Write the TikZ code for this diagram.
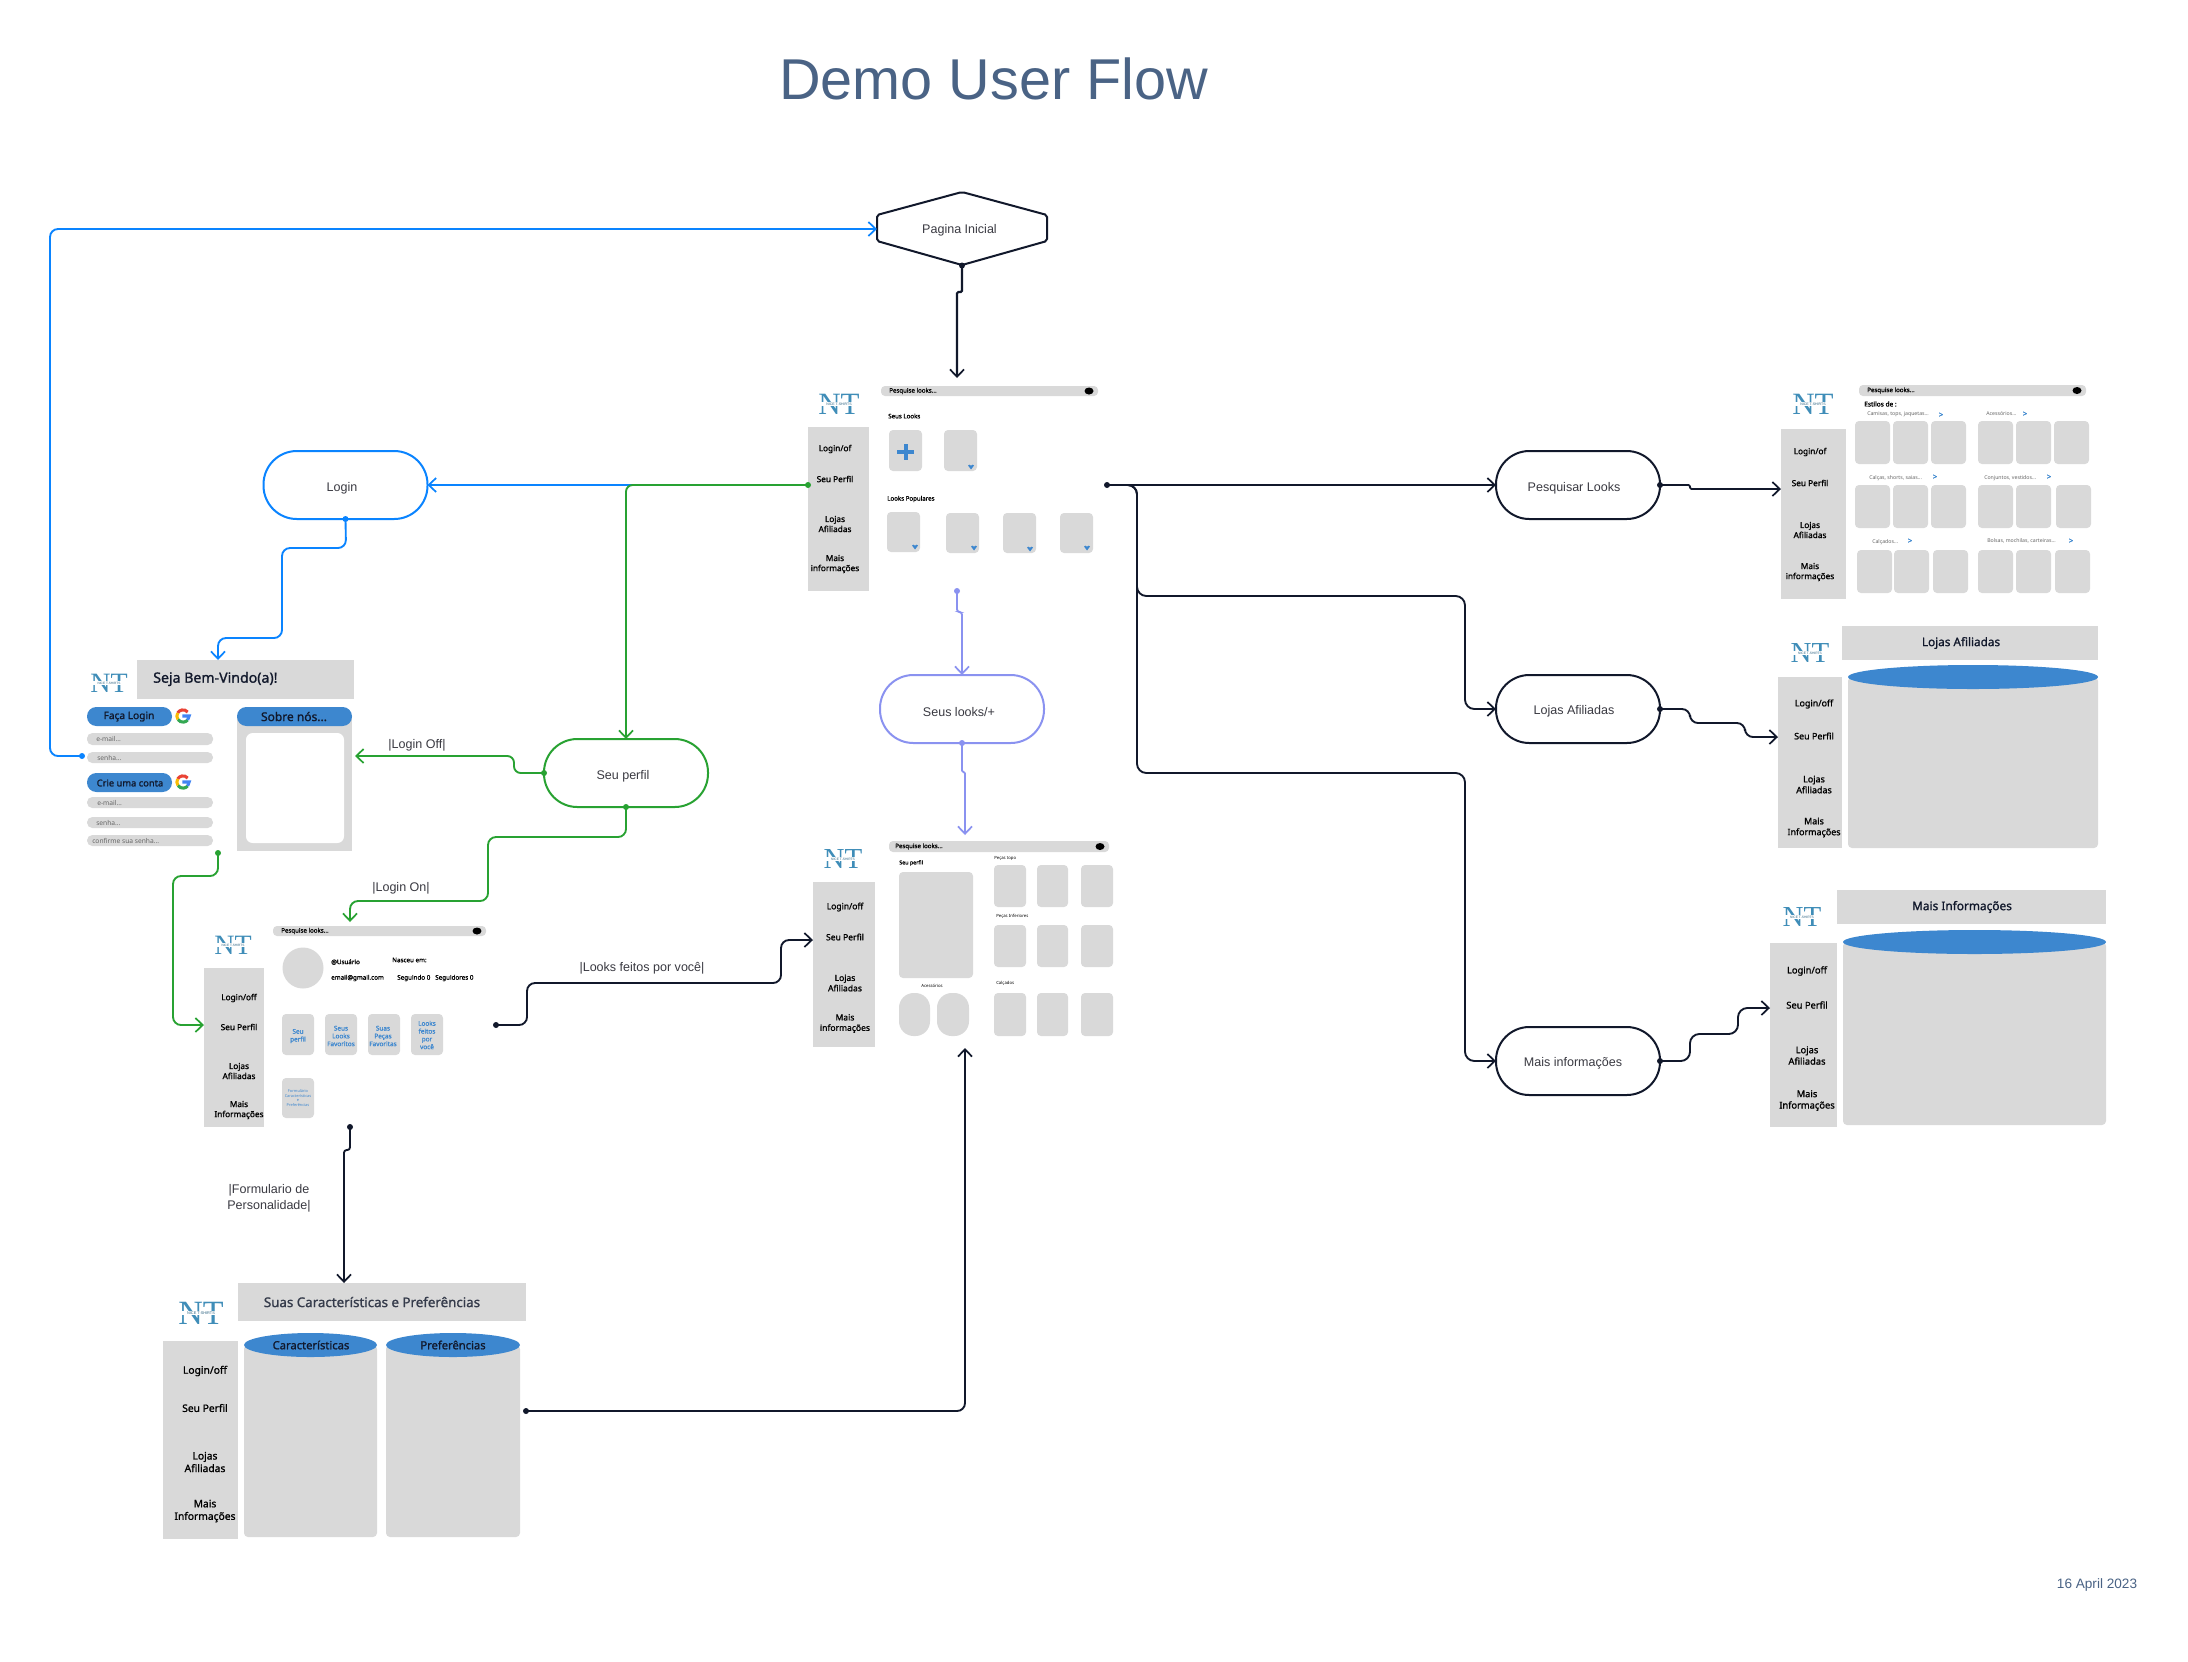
\documentclass[tikz,border=0pt]{standalone}
\usepackage{fontspec}
\setmainfont{Liberation Sans}
\newfontfamily\uim[FakeBold=1.2]{Noto Sans}
\newfontfamily\uir{Noto Sans}
\usetikzlibrary{arrows.meta}
\definecolor{cgray}{HTML}{D9D9D9}
\definecolor{cblue}{HTML}{3D87CF}
\definecolor{cink}{HTML}{11182B}
\definecolor{cgreen}{HTML}{28A232}
\definecolor{clink}{HTML}{0A84FF}
\definecolor{cpurple}{HTML}{8A92F0}
\definecolor{ctitle}{HTML}{4A6385}
\definecolor{clabel}{HTML}{3A3A42}
\definecolor{cfield}{HTML}{666666}
\definecolor{clogo}{HTML}{3F8DB8}
\newcounter{tx}
\newcommand{\UM}[6][center]{\stepcounter{tx}\pgfmathsetmacro\lsk{#4*1.22}%
  \node[name=u\arabic{tx},anchor=#1,inner sep=0pt,align=center,text=#5,font=\uim\fontsize{#4}{\lsk}\selectfont] at (#2,#3) {#6};}
\newcommand{\UR}[6][center]{\stepcounter{tx}\pgfmathsetmacro\lsk{#4*1.22}%
  \node[name=u\arabic{tx},anchor=#1,inner sep=0pt,align=center,text=#5,font=\uir\fontsize{#4}{\lsk}\selectfont] at (#2,#3) {#6};}
\newcommand{\GBox}[4]{\fill[cgray] (#1,#2) rectangle (#3,#4);}
\newcommand{\Card}[4]{\fill[cgray,rounded corners=3pt] (#1,#2) rectangle (#3,#4);}
\newcommand{\Logo}[3]{% cx cy scale(px em)
  \stepcounter{tx}\pgfmathsetmacro\lsk{#3*0.75}%
  \pgfmathsetmacro\bw{#3*1.2}\pgfmathsetmacro\bh{#3*0.11}\pgfmathsetmacro\ts{#3*0.085}%
  \node[name=u\arabic{tx},inner sep=0pt,text=clogo,font=\fontspec{Liberation Serif}\fontsize{\lsk}{\lsk}\selectfont] at (#1,#2+1) {NT};
  \fill[white] (#1-\bw/2,#2-\bh/2+1) rectangle (#1+\bw/2,#2+\bh/2+1);
  \stepcounter{tx}%
  \node[name=u\arabic{tx},inner sep=0pt,text=clogo!70!black,font=\fontsize{\ts}{\ts}\selectfont] at (#1,#2+1) {NICE T-SHIRTS};}
\newcommand{\Search}[5]{% x0 y0 x1 y1 textx
  \Card{#1}{#2}{#3}{#4}
  \UM[west]{#5}{{(#2+#4)/2}}{4.6}{black}{Pesquise looks...}
  \fill[black] (#3-9,{(#2+#4)/2}) ellipse[x radius=4.5,y radius=3.5];}
\newcommand{\Heart}[2]{\fill[cblue] (#1-3,#2-1.5) -- (#1-1.5,#2-2.3) -- (#1,#2-1.3) -- (#1+1.5,#2-2.3) -- (#1+3,#2-1.5) -- (#1,#2+2.5) -- cycle;}
\newcommand{\Side}[8]{% cx ylogin yperfil ylojas ymais size logintext maistext
  \UM{#1}{#2}{#6}{black}{#7}
  \UM{#1}{#3}{#6}{black}{Seu Perfil}
  \UM{#1}{#4}{#6}{black}{Lojas\\Afiliadas}
  \UM{#1}{#5}{#6}{black}{Mais\\#8}}
\newcommand{\Gee}[2]{%
  \draw[line width=2.3pt,color={rgb,255:red,234;green,67;blue,53}] (#1,#2) ++(40:4.6pt) arc[start angle=40,end angle=150,radius=4.6pt];
  \draw[line width=2.3pt,color={rgb,255:red,251;green,188;blue,5}] (#1,#2) ++(150:4.6pt) arc[start angle=150,end angle=215,radius=4.6pt];
  \draw[line width=2.3pt,color={rgb,255:red,52;green,168;blue,83}] (#1,#2) ++(215:4.6pt) arc[start angle=215,end angle=320,radius=4.6pt];
  \draw[line width=2.3pt,color={rgb,255:red,66;green,133;blue,244}] (#1,#2) ++(320:4.6pt) arc[start angle=320,end angle=360,radius=4.6pt] -- +(-5pt,0pt);}
\newcommand{\Cyl}[4]{% x0 x1 ycenter ybottom
  \fill[cgray,rounded corners=3pt] (#1,#3) rectangle (#2,#4);
  \fill[cblue] ({(#1+#2)/2},#3) ellipse[x radius={(#2-#1)/2},y radius=12];}
\tikzset{
  pill/.style={draw,line width=1.5pt,fill=white,minimum width=123pt,minimum height=51pt,rounded corners=25pt,inner sep=0pt,outer sep=0pt},
  pilltext/.style={inner sep=0pt,text=clabel,font=\fontsize{9.4}{11}\selectfont},
  flow/.style={line width=1.4pt,rounded corners=5pt,-{Straight Barb[length=5.5pt,width=10.5pt,line width=1.3pt]}},
  edgelabel/.style={inner sep=0pt,text=clabel,align=center,font=\fontsize{9.4}{12}\selectfont},
  dot/.style={radius=3}
}
\begin{document}
\begin{tikzpicture}[x=0.75pt,y=-0.75pt]
\useasboundingbox (0,0) rectangle (2188,1661);
\fill[white] (0,0) rectangle (2188,1661);

\node[name=title,inner sep=0pt,text=ctitle,font=\fontsize{43.2}{50}\selectfont] at (993.5,79) {Demo User Flow};
\node[name=datestamp,inner sep=0pt,text=ctitle,font=\fontsize{10.2}{12}\selectfont] at (2097,1585) {16 April 2023};

%% ---------- main screen
\Logo{839}{403}{31}
\GBox{808}{427}{869}{591}
\Side{835}{449}{479}{524}{564}{6.2}{Login/of}{informações}
\Search{881}{386}{1098}{396}{889}
\UM[west]{888}{416}{4.6}{black}{Seus Looks}
\Card{889}{430}{922}{471}
\draw[cblue,line width=3pt] (897,452) -- (914,452) (905.5,444) -- (905.5,460);
\Card{944}{430}{977}{471}\Heart{971}{467}
\UM[west]{887}{499}{4.6}{black}{Looks Populares}
\Card{887}{512}{920}{552}\Heart{915}{547}
\Card{946}{513}{979}{553}\Heart{974}{548}
\Card{1003}{513}{1036}{553}\Heart{1030}{549}
\Card{1060}{513}{1093}{553}\Heart{1087}{548}

%% ---------- login screen
\Logo{109}{682}{28}
\GBox{137}{660}{354}{699}
\UM[west]{153}{679}{10.6}{cink}{Seja Bem-Vindo(a)!}
\fill[cblue,rounded corners=7pt] (87,707) rectangle (172,726);
\UM{129}{716.5}{7.6}{cink}{Faça Login}
\Gee{183}{716}
\fill[cgray,rounded corners=4pt] (87,733) rectangle (213,745);
\UR[west]{96}{739}{5}{cfield}{e-mail...}
\fill[cgray,rounded corners=4pt] (87,752) rectangle (213,763);
\UR[west]{97}{757.5}{5}{cfield}{senha...}
\fill[cblue,rounded corners=7pt] (87,773) rectangle (172,792);
\UM{130}{783}{7}{cink}{Crie uma conta}
\Gee{183}{782}
\fill[cgray,rounded corners=4pt] (87,797) rectangle (213,808);
\UR[west]{97}{803}{5}{cfield}{e-mail...}
\fill[cgray,rounded corners=4pt] (87,817) rectangle (213,828);
\UR[west]{96}{823}{5}{cfield}{senha...}
\fill[cgray,rounded corners=4pt] (87,835) rectangle (213,846);
\UR[west]{92}{841}{5}{cfield}{confirme sua senha...}
\GBox{237}{716}{352}{851}
\fill[cblue,rounded corners=7pt] (237,707) rectangle (352,726);
\UM{294}{716.5}{9}{cink}{Sobre nós...}
\fill[white,rounded corners=5pt] (246,733) rectangle (344,843);

%% ---------- profile screen
\Logo{233}{944}{28}
\GBox{204}{968}{264}{1127}
\Side{239}{998}{1027}{1071}{1110}{6.2}{Login/off}{Informações}
\Search{273}{926}{486}{936}{281}
\fill[cgray] (303,968) circle[radius=20.5];
\UM[west]{331}{962}{4.7}{black}{@Usuário}
\UM[west]{392}{960}{4.7}{black}{Nasceu em:}
\UM[west]{331}{978}{4.7}{black}{email@gmail.com}
\UM[west]{397}{978}{4.7}{black}{Seguindo 0}
\UM[west]{435}{978}{4.7}{black}{Seguidores 0}
\Card{282}{1014}{314}{1055}\UM{298}{1036}{4.8}{cblue}{Seu\\perfil}
\Card{325}{1014}{357}{1055}\UM{341}{1036}{4.8}{cblue}{Seus\\Looks\\Favoritos}
\Card{368}{1014}{400}{1055}\UM{383}{1036}{4.8}{cblue}{Suas\\Peças\\Favoritas}
\Card{411}{1014}{443}{1055}\UM{427}{1035}{4.8}{cblue}{Looks\\feitos\\por\\você}
\Card{282}{1078}{314}{1118}\UR{298}{1098}{2.9}{cblue}{Formulário\\Características\\e\\Preferências}

%% ---------- form screen
\Logo{201}{1312}{34}
\GBox{163}{1341}{238}{1539}
\Side{205}{1371}{1408}{1462}{1511}{7.7}{Login/off}{Informações}
\GBox{238}{1283}{526}{1321}
\UM{372}{1302}{10}{cink!85!white}{Suas Características e Preferências}
\Cyl{244}{377}{1345}{1537}
\Cyl{386}{520}{1345}{1537}
\UM{311}{1345}{8.4}{cink}{Características}
\UM{453}{1345}{8.4}{cink}{Preferências}

%% ---------- looks result screen
\Logo{843}{858}{29}
\GBox{813}{882}{875}{1047}
\Side{845}{907}{937}{983}{1023.5}{6.4}{Login/off}{informações}
\Search{889}{841}{1109}{852}{895}
\UM[west]{899}{863}{4}{black}{Seu perfil}
\Card{899}{872}{973}{978}
\UR{932}{986}{3.2}{black}{Acessórios}
\fill[cgray,rounded corners=11pt] (899,993) rectangle (930,1036);
\fill[cgray,rounded corners=11pt] (937,993) rectangle (969,1036);
\UR[west]{994}{858}{3.2}{black}{Peças topo}
\UR[west]{996}{916}{3.2}{black}{Peças Inferiores}
\UR[west]{996}{983}{3.2}{black}{Calçados}
\Card{994}{865}{1026}{907}\Card{1037}{865}{1068}{907}\Card{1081}{865}{1113}{907}
\Card{994}{925}{1026}{967}\Card{1037}{925}{1068}{967}\Card{1081}{925}{1113}{967}
\Card{994}{993}{1026}{1036}\Card{1037}{993}{1068}{1036}\Card{1081}{993}{1113}{1036}

%% ---------- search results screen
\Logo{1813}{403}{31}
\GBox{1781}{429}{1846}{599}
\Side{1810}{452}{483}{530}{572}{6.2}{Login/of}{informações}
\Search{1859}{385}{2086}{396}{1867}
\UM[west]{1864}{404}{4.9}{black}{Estilos de :}
\UR[west]{1867}{414}{3.9}{cfield}{Camisas, tops, jaquetas...}
\UM{1941}{415}{6}{cblue}{>}
\UR[west]{1986}{414}{3.9}{cfield}{Acessórios...}
\UM{2025}{414}{6}{cblue}{>}
\UR[west]{1869}{478}{3.9}{cfield}{Calças, shorts, saias...}
\UM{1935}{477}{6}{cblue}{>}
\UR[west]{1984}{478}{3.9}{cfield}{Conjuntos, vestidos...}
\UM{2049}{477}{6}{cblue}{>}
\UR[west]{1872}{542}{3.9}{cfield}{Calçados...}
\UM{1910}{541}{6}{cblue}{>}
\UR[west]{1987}{541}{3.9}{cfield}{Bolsas, mochilas, carteiras...}
\UM{2071}{541}{6}{cblue}{>}
\Card{1855}{421}{1890}{464}\Card{1893}{421}{1928}{464}\Card{1931}{421}{1966}{464}
\Card{1978}{421}{2013}{464}\Card{2016}{421}{2051}{464}\Card{2054}{421}{2089}{464}
\Card{1855}{485}{1890}{528}\Card{1893}{485}{1928}{528}\Card{1931}{485}{1966}{528}
\Card{1978}{485}{2013}{528}\Card{2016}{485}{2051}{528}\Card{2056}{485}{2091}{528}
\Card{1857}{550}{1892}{593}\Card{1894}{550}{1929}{593}\Card{1933}{550}{1968}{593}
\Card{1978}{550}{2013}{593}\Card{2016}{550}{2051}{593}\Card{2055}{550}{2090}{593}

%% ---------- lojas screen
\Logo{1810}{652}{29}
\GBox{1778}{677}{1842}{848}
\Side{1814}{704}{736}{784.5}{827.5}{6.7}{Login/off}{Informações}
\GBox{1842}{626}{2098}{660}
\UM{1961}{643}{8.8}{cink}{Lojas Afiliadas}
\Cyl{1848}{2098}{677}{848}

%% ---------- mais screen
\Logo{1802}{916}{29}
\GBox{1770}{943}{1837}{1127}
\Side{1807}{971}{1005}{1055.5}{1100.5}{7}{Login/off}{Informações}
\GBox{1837}{890}{2106}{924}
\UM{1962}{907}{8.9}{cink}{Mais Informações}
\Cyl{1843}{2106}{942}{1125}

%% ---------- flow nodes
\node[name=hex,inner sep=0pt,outer sep=0pt,minimum width=127.5pt,minimum height=54.75pt] at (962,229) {};
\draw[cink,line width=1.5pt,rounded corners=1.5pt,fill=white] (877,215) -- (962,192) -- (1047,215) -- (1047,241) -- (962,265) -- (877,241) -- cycle;
\node[name=hexlabel,pilltext] at (959.5,230) {Pagina Inicial};
\node[pill,draw=clink,name=login] at (345.5,485) {};
\node[pilltext,name=logintxt] at (342,488) {Login};
\node[pill,draw=cgreen,name=perfil] at (626,773) {};
\node[pilltext,name=perfiltxt] at (623,776) {Seu perfil};
\node[pill,draw=cpurple,name=seuslooks] at (962,709) {};
\node[pilltext,name=seuslookstxt] at (959,712) {Seus looks/+};
\node[pill,draw=cink,name=pesq] at (1578,485) {};
\node[pilltext,name=pesqtxt] at (1574,488) {Pesquisar Looks};
\node[pill,draw=cink,name=lojas] at (1578,709) {};
\node[pilltext,name=lojastxt] at (1574,711) {Lojas Afiliadas};
\node[pill,draw=cink,name=mais] at (1578,1061) {};
\node[pilltext,name=maistxt] at (1573,1063) {Mais informações};

%% ---------- connection points on the screens
\coordinate (mainT) at (957,378);
\coordinate (mainL) at (808,485);
\coordinate (mainR) at (1107,485);
\coordinate (mainB) at (957,591);
\coordinate (welT) at (218,660);
\coordinate (welL) at (82,756);
\coordinate (welR) at (355,756);
\coordinate (welB) at (218,853);
\coordinate (profT) at (350,922);
\coordinate (profL) at (204,1025);
\coordinate (profR) at (496,1025);
\coordinate (profB) at (350,1127);
\coordinate (formT) at (344,1283);
\coordinate (formR) at (526,1411);
\coordinate (lookT) at (965,835);
\coordinate (lookL) at (813,940);
\coordinate (lookB) at (965,1048);
\coordinate (searchL) at (1781,489);
\coordinate (storeL) at (1778,737);
\coordinate (infoL) at (1770,1008);

%% ---------- connectors
\draw[flow,cink,line width=1.7pt,rounded corners=1pt] (hex.south) -- (962,292) -- (957,292) -- (mainT);
\fill[cink] (hex.south) circle[dot];

\draw[flow,clink] (mainL) -- (login.east);
\draw[flow,cgreen] (mainL) -- (626,485) -- (perfil.north);
\fill[cgreen] (mainL) circle[dot];

\draw[flow,clink,rounded corners=6pt] (login.south) -- (346,548) -- (282,548) -- (282,638) -- (218,638) -- (welT);
\fill[clink] (login.south) circle[dot];

\draw[flow,clink,rounded corners=6pt] (welL) -- (50,756) -- (50,229) -- (hex.west);
\fill[clink] (welL) circle[dot];

\draw[flow,cgreen] (perfil.west) -- (514,773) -- (514,756) -- (welR);
\fill[cgreen] (perfil.west) circle[dot];
\node[edgelabel,name=lbloff] at (417,745) {|Login Off|};

\draw[flow,cgreen,rounded corners=6pt] (perfil.south) -- (626,837) -- (488,837) -- (488,901) -- (350,901) -- (profT);
\fill[cgreen] (perfil.south) circle[dot];
\node[edgelabel,name=lblon] at (401,888) {|Login On|};

\draw[flow,cgreen,rounded corners=6pt] (welB) -- (218,876) -- (173,876) -- (173,1025) -- (profL);
\fill[cgreen] (welB) circle[dot];

\draw[flow,cink,rounded corners=6pt] (profR) -- (527,1025) -- (527,983) -- (781,983) -- (781,940) -- (lookL);
\fill[cink] (profR) circle[dot];
\node[edgelabel,name=lblfeitos] at (642,968) {|Looks feitos por você|};

\draw[flow,cink,rounded corners=2pt] (profB) -- (350,1150) -- (344,1150) -- (formT);
\fill[cink] (profB) circle[dot];
\node[edgelabel,name=lblform] at (269,1198) {|Formulario de\\Personalidade|};

\draw[flow,cink,rounded corners=6pt] (formR) -- (965,1411) -- (lookB);
\fill[cink] (formR) circle[dot];

\draw[flow,cpurple,rounded corners=2pt] (mainB) -- (957,612) -- (962,612) -- (seuslooks.north);
\fill[cpurple] (mainB) circle[dot];
\draw[flow,cpurple,rounded corners=1pt] (seuslooks.south) -- (962,772) -- (965,772) -- (lookT);
\fill[cpurple] (seuslooks.south) circle[dot];

\draw[flow,cink] (mainR) -- (pesq.west);
\draw[flow,cink,rounded corners=7pt] (mainR) -- (1137,485) -- (1137,596) -- (1465,596) -- (1465,709) -- (lojas.west);
\draw[flow,cink,rounded corners=7pt] (mainR) -- (1137,485) -- (1137,773) -- (1465,773) -- (1465,1061) -- (mais.west);
\fill[cink] (mainR) circle[dot];

\draw[flow,cink,rounded corners=1pt] (pesq.east) -- (1690,485) -- (1690,489) -- (searchL);
\fill[cink] (pesq.east) circle[dot];
\draw[flow,cink,rounded corners=6pt] (lojas.east) -- (1690,709) -- (1690,723) -- (1745,723) -- (1745,737) -- (storeL);
\fill[cink] (lojas.east) circle[dot];
\draw[flow,cink,rounded corners=7pt] (mais.east) -- (1690,1061) -- (1690,1034) -- (1738,1034) -- (1738,1008) -- (infoL);
\fill[cink] (mais.east) circle[dot];
\end{tikzpicture}
\end{document}
